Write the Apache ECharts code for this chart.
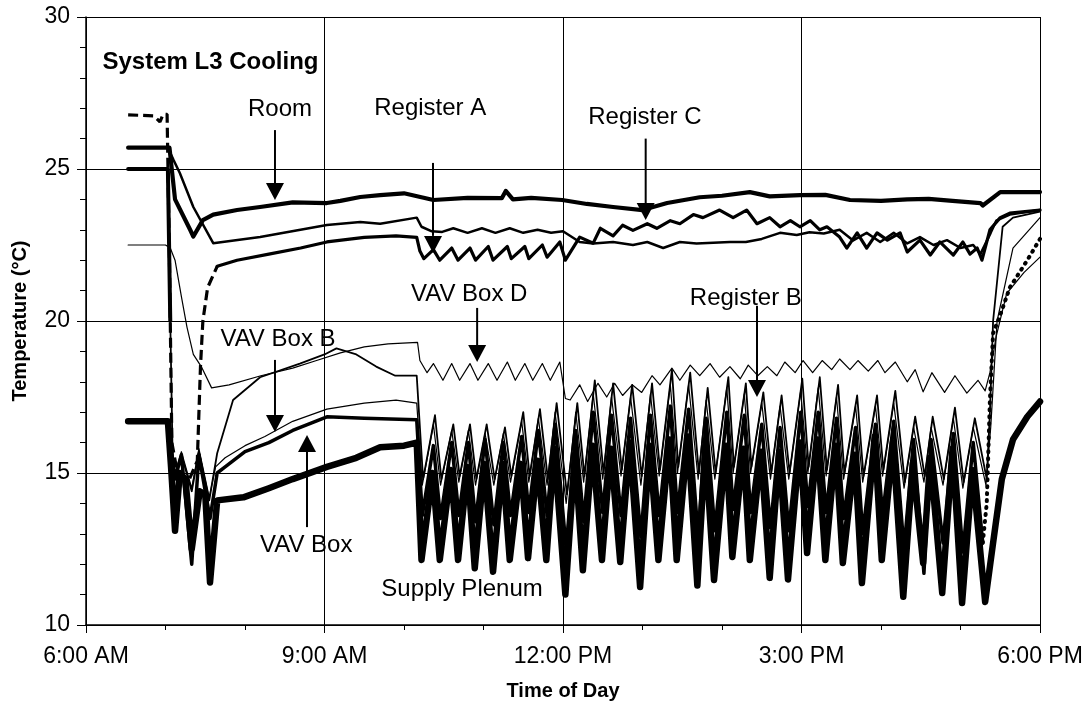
<!DOCTYPE html>
<html><head><meta charset="utf-8">
<script src="https://cdn.jsdelivr.net/npm/echarts@6/dist/echarts.min.js"></script>
<style>html,body{margin:0;padding:0;background:#fff}#c{width:1090px;height:708px}</style>
</head><body><div id="c"></div>
<script>
// ---- tick labels ----
const xTickValues = [6, 9, 12, 15, 18];
const xTickLabels = ['6:00 AM', '9:00 AM', '12:00 PM', '3:00 PM', '6:00 PM'];

// ---- series values: [hour of day, °C] ----
const room = [[6.53,25.7],[7.05,25.7],[7.12,24.0],[7.31,23.0],[7.35,22.78],[7.47,23.32],[7.6,23.5],[7.9,23.65],[8.19,23.75],[8.6,23.9],[9.03,23.88],[9.2,23.95],[9.45,24.08],[9.7,24.14],[10.0,24.2],[10.37,23.98],[10.8,24.05],[11.23,24.04],[11.28,24.28],[11.37,24.0],[11.6,24.05],[11.99,23.98],[12.3,23.85],[12.63,23.75],[13.0,23.65],[13.31,23.88],[13.72,24.07],[14.0,24.12],[14.35,24.24],[14.6,24.1],[14.98,24.14],[15.3,24.15],[15.61,23.98],[16.0,23.95],[16.33,24.0],[16.6,24.02],[16.9,23.95],[17.25,23.88],[17.28,23.8],[17.5,24.24],[18.0,24.24]];

const registerADash = [[6.53,26.78],[6.85,26.75],[6.93,26.55],[6.97,26.8],[7.02,26.8],[7.05,22.0],[7.08,16.0],[7.15,15.0],[7.3,14.8],[7.4,15.4],[7.44,18.5],[7.47,20.0],[7.53,21.1],[7.65,21.8]];
const registerA = [[7.65,21.8],[7.9,22.0],[8.3,22.2],[8.7,22.4],[9.03,22.6],[9.5,22.75],[9.9,22.8],[10.16,22.75],[10.2,22.3],[10.25,22.05],[10.37,22.35],[10.45,22.0],[10.6,22.4],[10.68,22.0],[10.83,22.4],[10.9,22.0],[11.06,22.45],[11.12,22.0],[11.3,22.45],[11.35,22.05],[11.52,22.45],[11.57,22.05],[11.74,22.5],[11.8,22.1],[11.96,22.6],[12.03,22.0],[12.21,22.76],[12.38,22.56],[12.47,23.05],[12.63,22.8],[12.75,23.15],[12.88,22.98],[13.06,23.2],[13.18,23.05],[13.35,23.3],[13.47,23.2],[13.64,23.5],[13.76,23.4],[13.97,23.65],[14.14,23.4],[14.31,23.65],[14.44,23.2],[14.6,23.4],[14.73,23.1],[14.86,23.3],[14.98,23.1],[15.11,23.3],[15.23,23.0],[15.32,23.1],[15.48,22.76],[15.57,22.4],[15.7,22.9],[15.82,22.4],[15.95,22.9],[16.08,22.66],[16.24,22.9],[16.33,22.27],[16.49,22.66],[16.62,22.17],[16.74,22.6],[16.91,22.17],[17.03,22.6],[17.12,22.2],[17.21,22.4],[17.27,22.0],[17.37,23.0],[17.5,23.4],[17.62,23.55],[18.0,23.65]];

const registerC = [[6.53,25.7],[7.03,25.7],[7.1,25.3],[7.18,24.87],[7.35,23.75],[7.6,22.56],[8.19,22.76],[9.03,23.16],[9.45,23.26],[9.7,23.2],[10.16,23.4],[10.22,23.1],[10.35,22.95],[10.48,22.93],[10.62,23.05],[10.8,22.9],[10.98,23.05],[11.15,22.9],[11.33,23.05],[11.5,22.9],[11.68,23.0],[11.85,22.9],[12.0,22.95],[12.21,22.6],[12.38,22.55],[12.63,22.6],[12.88,22.5],[13.06,22.6],[13.26,22.4],[13.47,22.6],[13.68,22.55],[13.89,22.57],[14.1,22.6],[14.3,22.6],[14.5,22.7],[14.73,22.9],[14.94,22.83],[15.1,22.92],[15.28,22.88],[15.48,23.0],[15.65,22.65],[15.82,22.9],[15.99,22.6],[16.16,22.9],[16.33,22.55],[16.49,22.76],[16.66,22.5],[16.83,22.66],[17.0,22.4],[17.16,22.5],[17.25,22.2],[17.38,22.9],[17.45,23.3],[17.62,23.5],[18.0,23.65]];

const vavBoxD = [[6.53,22.5],[7.0,22.5],[7.06,22.4],[7.12,22.0],[7.2,20.8],[7.27,19.8],[7.35,18.9],[7.45,18.5],[7.58,17.8],[7.8,17.9],[8.2,18.2],[8.6,18.45],[8.9,18.7],[9.2,18.95],[9.5,19.15],[9.8,19.25],[10.17,19.3],[10.2,18.7],[10.29,18.3],[10.37,18.6],[10.49,18.05],[10.6,18.6],[10.7,18.05],[10.83,18.6],[10.93,18.05],[11.06,18.6],[11.17,18.05],[11.3,18.65],[11.4,18.05],[11.52,18.6],[11.62,18.05],[11.74,18.6],[11.84,18.05],[11.96,18.65],[12.03,17.45],[12.09,17.4],[12.21,17.9],[12.31,17.35],[12.44,17.95],[12.55,17.5],[12.65,17.95],[12.75,17.55],[12.87,17.9],[12.99,17.65],[13.12,18.2],[13.22,17.9],[13.37,18.45],[13.47,18.05],[13.6,18.55],[13.72,18.2],[13.85,18.6],[13.97,18.15],[14.1,18.5],[14.23,18.1],[14.33,18.55],[14.45,18.2],[14.57,18.5],[14.69,18.2],[14.79,18.65],[14.92,18.3],[15.02,18.7],[15.14,18.3],[15.26,18.7],[15.38,18.4],[15.48,18.75],[15.61,18.4],[15.71,18.7],[15.84,18.35],[15.96,18.7],[16.05,18.3],[16.18,18.65],[16.33,18.0],[16.43,18.4],[16.53,17.67],[16.64,18.3],[16.8,17.65],[16.93,18.2],[17.08,17.63],[17.22,18.05],[17.31,17.7],[17.37,18.3],[17.45,19.5],[17.58,20.9],[17.8,21.6],[18.0,22.1]];

const registerBStart = [[6.53,25.0],[7.03,25.0],[7.06,20.0]];
const registerB = [[7.06,20.0],[7.09,15.5],[7.12,14.9],[7.2,15.6],[7.33,14.4],[7.42,15.7],[7.55,14.1],[7.65,15.65],[7.85,17.4],[8.19,18.15],[8.69,18.6],[9.0,18.9],[9.15,19.1],[9.4,18.9],[9.65,18.5],[9.89,18.2],[10.16,18.2],[10.24,14.8],[10.39,16.9],[10.47,14.8],[10.62,16.6],[10.7,14.9],[10.83,16.6],[10.91,14.8],[11.04,16.6],[11.14,14.8],[11.27,16.5],[11.35,14.9],[11.5,17.0],[11.58,14.9],[11.71,17.1],[11.81,14.8],[11.92,17.3],[12.05,14.3],[12.18,17.3],[12.27,14.9],[12.4,18.05],[12.51,15.0],[12.63,17.95],[12.74,15.1],[12.87,17.9],[12.99,14.9],[13.12,17.95],[13.22,15.1],[13.37,18.4],[13.45,15.2],[13.6,18.3],[13.71,15.0],[13.82,17.8],[13.92,15.0],[14.08,18.15],[14.15,15.2],[14.3,17.95],[14.37,15.2],[14.52,17.65],[14.62,15.0],[14.75,17.55],[14.85,15.0],[15.01,18.1],[15.09,15.2],[15.23,18.15],[15.32,15.1],[15.46,17.9],[15.54,15.0],[15.7,17.55],[15.78,14.9],[15.95,17.55],[16.03,15.1],[16.18,17.7],[16.3,14.7],[16.43,16.85],[16.55,14.9],[16.65,16.85],[16.79,14.8],[16.93,17.15],[17.04,14.7],[17.18,16.8],[17.33,14.8],[17.37,17.0],[17.41,20.0],[17.53,23.1],[17.66,23.4],[18.0,23.6]];

const vavBoxB = [[6.53,16.7],[7.03,16.7],[7.12,15.0],[7.2,15.7],[7.33,14.5],[7.42,15.8],[7.55,14.2],[7.63,15.2],[7.75,15.5],[8.0,15.9],[8.25,16.2],[8.6,16.7],[9.03,17.1],[9.5,17.3],[9.9,17.4],[10.16,17.3],[10.23,14.6],[10.37,16.6],[10.46,14.6],[10.6,16.4],[10.69,14.7],[10.81,16.4],[10.9,14.6],[11.02,16.3],[11.13,14.6],[11.25,16.3],[11.34,14.7],[11.48,16.7],[11.57,14.7],[11.69,16.8],[11.8,14.6],[11.9,17.0],[12.04,14.0],[12.16,17.0],[12.26,14.7],[12.38,17.6],[12.5,14.8],[12.61,17.5],[12.73,14.9],[12.85,17.5],[12.98,14.6],[13.1,17.6],[13.21,14.9],[13.35,17.9],[13.44,15.0],[13.58,17.9],[13.7,14.8],[13.8,17.4],[13.91,14.8],[14.06,17.8],[14.14,15.0],[14.28,17.6],[14.36,15.0],[14.5,17.3],[14.61,14.8],[14.73,17.2],[14.84,14.8],[14.99,17.7],[15.08,15.0],[15.21,17.8],[15.31,14.9],[15.44,17.5],[15.53,14.8],[15.68,17.2],[15.77,14.7],[15.93,17.2],[16.02,14.9],[16.16,17.3],[16.29,14.5],[16.41,16.5],[16.54,14.7],[16.63,16.5],[16.78,14.6],[16.91,16.8],[17.03,14.5],[17.16,16.5],[17.32,14.6],[17.38,16.5],[17.46,20.0],[17.66,22.4],[18.0,23.4]];

const vavBox = [[6.53,16.7],[7.03,16.7],[7.12,14.8],[7.2,15.6],[7.33,12.0],[7.42,15.6],[7.56,13.5],[7.65,15.0],[7.75,15.2],[8.0,15.7],[8.3,16.0],[8.6,16.4],[9.03,16.85],[9.5,16.8],[10.16,16.75],[10.23,13.6],[10.37,15.9],[10.46,13.5],[10.6,16.0],[10.69,13.6],[10.81,16.0],[10.9,13.4],[11.02,16.1],[11.13,13.3],[11.25,16.0],[11.34,13.6],[11.48,16.2],[11.57,13.7],[11.69,16.4],[11.8,13.6],[11.9,16.6],[12.04,12.5],[12.16,16.4],[12.26,13.4],[12.38,17.0],[12.5,13.7],[12.61,16.9],[12.73,13.6],[12.85,16.8],[12.98,12.9],[13.1,16.9],[13.21,13.6],[13.35,17.2],[13.44,13.7],[13.58,17.1],[13.7,12.9],[13.8,16.8],[13.91,13.1],[14.06,17.0],[14.14,13.8],[14.28,16.9],[14.36,13.7],[14.5,16.6],[14.61,13.2],[14.73,16.5],[14.84,13.1],[14.99,17.0],[15.08,13.9],[15.21,17.0],[15.31,13.7],[15.44,16.8],[15.53,13.5],[15.68,16.5],[15.77,13.0],[15.93,16.6],[16.02,13.6],[16.16,16.7],[16.29,12.5],[16.41,16.1],[16.54,11.7],[16.63,16.1],[16.78,12.7],[16.91,16.3],[17.03,12.4],[17.16,16.0],[17.28,12.7]];
const vavBoxEnd = [[17.28,12.7],[17.33,14.0],[17.37,17.4],[17.41,19.6],[17.5,20.2],[17.62,21.1],[17.84,22.0],[18.0,22.7]];

const supplyPlenum = [[6.53,16.7],[7.03,16.7],[7.07,15.2],[7.12,13.1],[7.18,15.0],[7.25,14.8],[7.33,12.5],[7.43,14.4],[7.5,14.3],[7.56,11.4],[7.65,14.1],[7.98,14.2],[8.3,14.5],[8.6,14.8],[9.03,15.2],[9.4,15.5],[9.7,15.85],[10.0,15.9],[10.16,16.0],[10.22,12.14],[10.36,15.0],[10.45,12.14],[10.59,15.1],[10.68,12.14],[10.8,15.2],[10.89,11.87],[11.01,15.3],[11.12,11.75],[11.24,15.3],[11.33,12.14],[11.47,15.3],[11.56,12.2],[11.68,15.4],[11.79,12.14],[11.89,15.8],[12.03,11.0],[12.15,15.6],[12.25,11.8],[12.37,15.9],[12.49,12.14],[12.6,15.8],[12.72,12.07],[12.84,16.0],[12.97,11.25],[13.09,15.9],[13.2,12.14],[13.34,16.1],[13.43,12.14],[13.57,16.2],[13.69,11.3],[13.79,15.9],[13.9,11.48],[14.05,15.9],[14.13,12.24],[14.27,15.8],[14.35,12.14],[14.49,15.7],[14.6,11.55],[14.72,15.7],[14.83,11.5],[14.98,16.0],[15.07,12.37],[15.2,16.1],[15.3,12.14],[15.43,15.9],[15.52,12.04],[15.67,15.6],[15.76,11.38],[15.92,16.2],[16.01,12.14],[16.15,16.0],[16.28,10.93],[16.4,15.3],[16.53,12.04],[16.62,15.5],[16.77,11.05],[16.9,15.8],[17.02,10.72],[17.15,15.1],[17.31,10.76],[17.41,12.7],[17.52,14.8],[17.66,16.1],[17.84,16.85],[18.0,17.35]];

// ---- annotations: text at [hour, °C]; arrows [hour, from °C, tip °C] ----
const noteTexts = ['Room', 'Register A', 'Register C', 'VAV Box D', 'Register B', 'VAV Box B', 'VAV Box', 'Supply Plenum'];
const noteAnchors = [[8.44,26.97],[10.33,27.0],[13.03,26.7],[10.82,20.86],[14.30,20.76],[8.415,19.41],[8.77,12.63],[10.73,11.18]];
const titleText = 'System L3 Cooling';
const titleAnchor = [7.566, 28.52];
const arrows = [[8.377,26.28,23.98],[10.365,25.2,22.24],[13.04,26.0,23.32],[10.92,20.43,18.65],[14.44,20.5,17.5],[8.377,18.72,16.35],[8.78,13.22,16.25]];

const FONT = '"Liberation Sans", Arial, Helvetica, sans-serif';
const chart = echarts.init(document.getElementById('c'), null, {renderer: 'canvas'});

function lineSeries(name, data, width, extra) {
  return Object.assign({
    name: name, type: 'line', data: data, showSymbol: false, symbol: 'none',
    animation: false, silent: true, clip: true,
    lineStyle: {color: '#000', width: width, join: 'round', cap: 'round'},
    emphasis: {disabled: true}
  }, extra || {});
}

const option = {
  backgroundColor: '#fff',
  animation: false,
  textStyle: {fontFamily: FONT, color: '#000'},
  grid: {left: 86, right: 50, top: 17, bottom: 83, containLabel: false, outerBoundsMode: 'none'},
  xAxis: {
    type: 'value', min: 6, max: 18, interval: 3,
    axisLine: {show: true, lineStyle: {color: '#000', width: 1.5}},
    axisTick: {show: true, length: 8, lineStyle: {color: '#000', width: 1}},
    minorTick: {show: true, splitNumber: 3, length: 5, lineStyle: {color: '#000', width: 1}},
    splitLine: {show: true, lineStyle: {color: '#000', width: 1}},
    axisLabel: {fontSize: 23, color: '#000', margin: 20, fontFamily: FONT,
      formatter: v => { const i = xTickValues.indexOf(v); return i >= 0 ? xTickLabels[i] : ''; }},
    name: 'Time of Day', nameLocation: 'middle', nameGap: 56,
    nameTextStyle: {fontSize: 20, fontWeight: 'bold', color: '#000', fontFamily: FONT}
  },
  yAxis: {
    type: 'value', min: 10, max: 30, interval: 5,
    axisLine: {show: true, lineStyle: {color: '#000', width: 1.5}},
    axisTick: {show: true, length: 9, lineStyle: {color: '#000', width: 1}},
    minorTick: {show: true, splitNumber: 5, length: 6, lineStyle: {color: '#000', width: 1}},
    splitLine: {show: true, lineStyle: {color: '#000', width: 1}},
    axisLabel: {fontSize: 23, color: '#000', margin: 16, fontFamily: FONT},
    name: 'Temperature (°C)', nameLocation: 'middle', nameGap: 56,
    nameTextStyle: {fontSize: 20, fontWeight: 'bold', color: '#000', fontFamily: FONT}
  },
  series: [
    lineSeries('Supply Plenum', supplyPlenum, 6.5),
    lineSeries('VAV Box', vavBox, 3.5),
    lineSeries('VAV Box end', vavBoxEnd, 4, {lineStyle: {color: '#000', width: 4, type: [1, 6], cap: 'round'}}),
    lineSeries('VAV Box B', vavBoxB, 1.2),
    lineSeries('Register B start', registerBStart, 4),
    lineSeries('Register B', registerB, 1.8),
    lineSeries('VAV Box D', vavBoxD, 1.2),
    lineSeries('Register C', registerC, 2.5),
    lineSeries('Register A dash', registerADash, 3.2, {lineStyle: {color: '#000', width: 3.2, type: [10, 5]}}),
    lineSeries('Register A', registerA, 3.2),
    lineSeries('Room', room, 4.2)
  ]
};
chart.setOption(option);

// annotations placed through the chart's own coordinate conversion
function px(p) { return chart.convertToPixel({gridIndex: 0}, p); }
const elements = [];
noteTexts.forEach((t, i) => {
  const p = px(noteAnchors[i]);
  elements.push({type: 'text', x: p[0], y: p[1], silent: true, z: 100,
    style: {text: t, fill: '#000', fontSize: 24, fontFamily: FONT, align: 'center', verticalAlign: 'middle'}});
});
const tp = px(titleAnchor);
elements.push({type: 'text', x: tp[0], y: tp[1], silent: true, z: 100,
  style: {text: titleText, fill: '#000', fontSize: 24, fontWeight: 'bold', fontFamily: FONT, align: 'center', verticalAlign: 'middle'}});
const HEAD_W = 9, HEAD_H = 17;
arrows.forEach(a => {
  const s = px([a[0], a[1]]), e = px([a[0], a[2]]);
  const dir = e[1] > s[1] ? 1 : -1;
  const base = e[1] - dir * HEAD_H;
  elements.push({type: 'line', silent: true, z: 100,
    shape: {x1: s[0], y1: s[1], x2: e[0], y2: base}, style: {stroke: '#000', lineWidth: 2}});
  elements.push({type: 'polygon', silent: true, z: 100,
    shape: {points: [[e[0] - HEAD_W, base], [e[0] + HEAD_W, base], [e[0], e[1]]]}, style: {fill: '#000'}});
});
chart.setOption({graphic: {elements: elements}});
</script>
</body></html>
